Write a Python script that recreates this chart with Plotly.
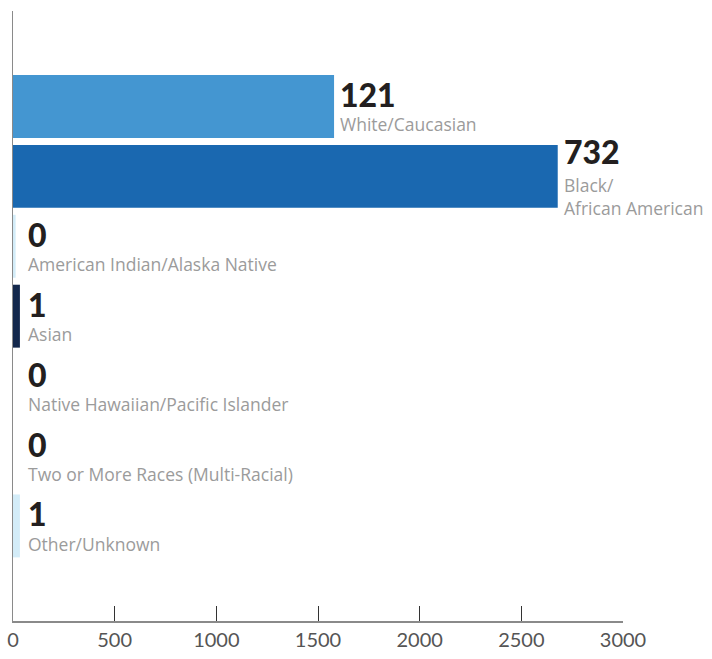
import plotly.graph_objects as go

categories = ["White/Caucasian", "Black/<br>African American", "American Indian/Alaska Native",
              "Asian", "Native Hawaiian/Pacific Islander", "Two or More Races (Multi-Racial)",
              "Other/Unknown"]
bar_values = [1579, 2679, 13, 34, 0, 0, 34]
count_labels = ["121", "732", "0", "1", "0", "0", "1"]
bar_colors = ["#4496D1", "#1A68B0", "#D3ECF8", "#13284C", "#D3ECF8", "#D3ECF8", "#D3ECF8"]
x_ticks = [0, 500, 1000, 1500, 2000, 2500, 3000]

idx = list(range(len(categories)))

fig = go.Figure()
fig.add_trace(go.Bar(
    y=idx, x=bar_values, orientation="h",
    marker=dict(color=bar_colors, line=dict(width=0)),
    hoverinfo="skip", showlegend=False,
))

annotations = []
for i, (v, lab, cat) in enumerate(zip(bar_values, count_labels, categories)):
    n = cat.count("<br>") + 1
    xpos = max(v, 45)
    annotations.append(dict(
        x=xpos, y=i, xref="x", yref="y", text=lab,
        showarrow=False, xanchor="left", yanchor="middle",
        xshift=4, yshift=12 + 13 * (n - 1),
        font=dict(family="Lato", size=32, color="#231F20", weight=900),
    ))
    annotations.append(dict(
        x=xpos, y=i, xref="x", yref="y", text=cat, align="left",
        showarrow=False, xanchor="left", yanchor="middle",
        xshift=4, yshift=-18 - 2 * (n - 1),
        font=dict(family="Open Sans", size=17.5, color="#9B9B9B"),
    ))

fig.update_layout(
    width=712, height=659,
    margin=dict(l=13, r=89, t=11, b=38, autoexpand=False),
    paper_bgcolor="white", plot_bgcolor="white",
    bargap=0.1,
    annotations=annotations,
    xaxis=dict(
        range=[0, 3000], tickvals=x_ticks, ticktext=[str(t) for t in x_ticks],
        showgrid=False, zeroline=False, automargin=False, ticklabeloverflow="allow",
        showline=True, linecolor="#8A8A8A", linewidth=1.5,
        ticks="inside", ticklen=15, tickcolor="#333333", tickwidth=1,
        tickfont=dict(family="Lato", size=20, color="#555555"),
        fixedrange=True,
    ),
    yaxis=dict(
        range=[7.36, -1.365], showticklabels=False, showgrid=False, zeroline=False,
        automargin=False,
        showline=True, linecolor="#8A8A8A", linewidth=1.5, ticks="",
        fixedrange=True,
    ),
)

fig.write_html(
    "out.html",
    config={"displayModeBar": False, "staticPlot": True},
    post_script="document.body.style.margin='0';document.body.style.overflow='hidden';",
)
